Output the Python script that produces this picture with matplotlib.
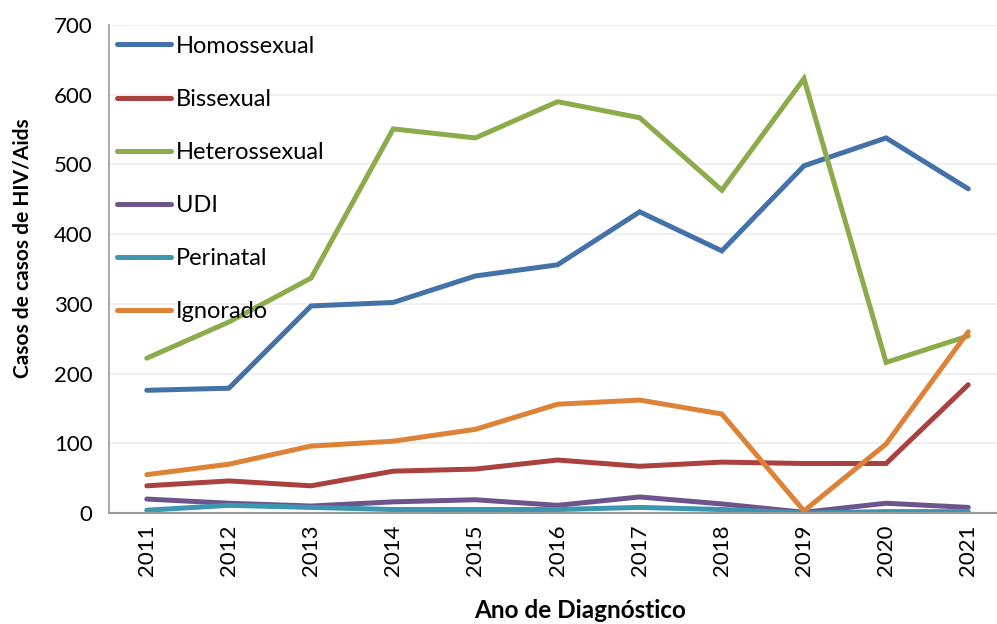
import numpy as np
import matplotlib.pyplot as plt

plt.rcParams['font.family'] = ['Lato', 'DejaVu Sans']

anos = ['2011', '2012', '2013', '2014', '2015', '2016', '2017', '2018', '2019', '2020', '2021']
homossexual = [176, 179, 297, 302, 340, 356, 432, 376, 498, 538, 465]
bissexual = [39, 46, 39, 60, 63, 76, 67, 73, 71, 71, 184]
heterossexual = [222, 274, 337, 551, 538, 590, 567, 463, 623, 216, 254]
udi = [20, 14, 10, 16, 19, 11, 23, 13, 1, 14, 8]
perinatal = [4, 11, 8, 5, 5, 5, 8, 5, 0, 2, 2]
ignorado = [55, 70, 96, 103, 120, 156, 162, 142, 3, 99, 260]

series = [
    ('Homossexual', homossexual, '#4372A9'),
    ('Bissexual', bissexual, '#A9423F'),
    ('Heterossexual', heterossexual, '#8CAB4A'),
    ('UDI', udi, '#6E548D'),
    ('Perinatal', perinatal, '#3C96B0'),
    ('Ignorado', ignorado, '#DD8237'),
]

fig = plt.figure(figsize=(9.97, 6.24), dpi=100)
ax = fig.add_axes([109/997, 1-513/624, 1-109/997, (513-25)/624])

x = np.arange(len(anos))
for nome, vals, cor in series:
    ax.plot(x, vals, color=cor, linewidth=3.6, label=nome, solid_capstyle='round',
            solid_joinstyle='miter')

ax.set_xlim(-0.46, 10.35)
ax.set_ylim(0, 700)
ax.set_yticks(range(0, 701, 100))
ax.set_xticks(x)
ax.set_xticklabels(anos, rotation=90)
ax.tick_params(axis='both', labelsize=16, length=0, pad=8)
ax.tick_params(axis='y', pad=12)
ax.yaxis.grid(True, color='#EEEEEE', linewidth=1.2)
ax.set_axisbelow(True)
for s in ['top', 'right']:
    ax.spines[s].set_visible(False)
ax.spines['left'].set_color('#999999')
ax.spines['bottom'].set_color('#999999')
ax.spines['left'].set_linewidth(1.2)
ax.spines['bottom'].set_linewidth(1.5)

ax.set_xlabel('Ano de Diagnóstico', fontsize=17.5, fontweight='bold')
ax.xaxis.set_label_coords(0.53, -0.176)
ax.set_ylabel('Casos de casos de HIV/Aids', fontsize=15, fontweight='bold')
ax.yaxis.set_label_coords(-0.086, 0.543)

leg = ax.legend(loc='upper left', bbox_to_anchor=(0.009, 0.978), frameon=False, fontsize=17,
                handlelength=2.3, handletextpad=0.2, labelspacing=1.36,
                borderaxespad=0, borderpad=0)

fig.savefig('out.png', dpi=100)
plt.close()
